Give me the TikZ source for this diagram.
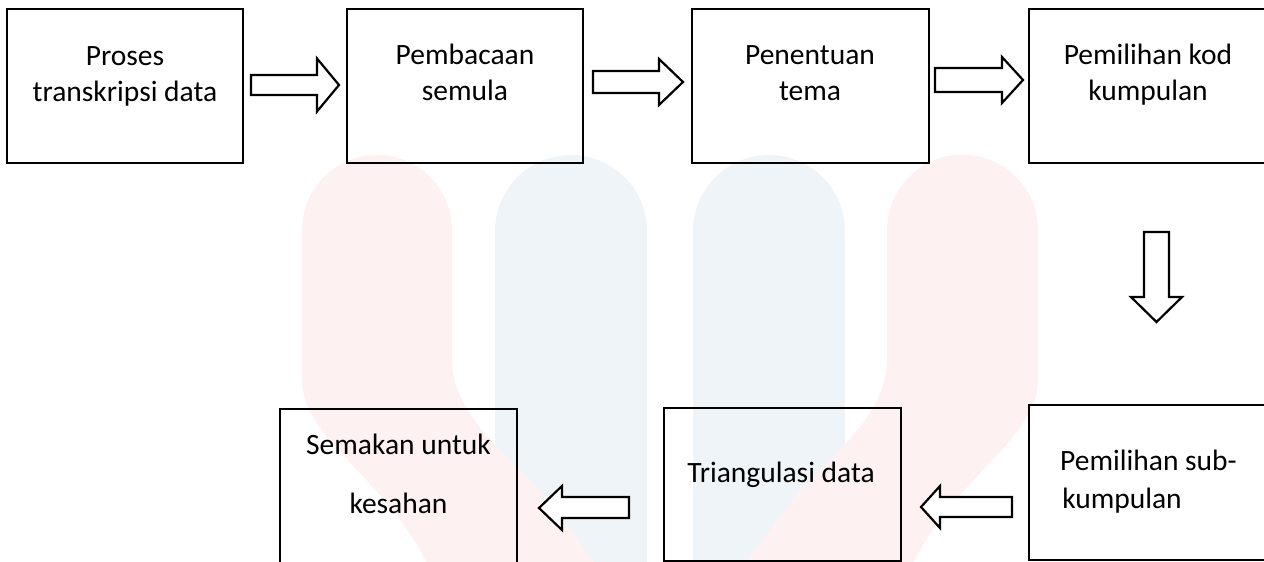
\documentclass[tikz,border=0pt]{standalone}
\usepackage{fontspec}
\setmainfont{Carlito}
\definecolor{wmred}{HTML}{FEF1F1}
\definecolor{wmblue}{HTML}{EFF4F8}
\tikzset{
  stepbox/.style={draw=black, line width=2.4bp},
  blockarrow/.style={draw=black, line width=2.2bp, fill=white, line join=miter},
  lbl/.style={anchor=base, inner sep=0pt, font=\fontsize{29.5bp}{35bp}\selectfont},
}
\begin{document}
\begin{tikzpicture}[x=1bp,y=-1bp]
\useasboundingbox (0,0) rectangle (1264,562);
% watermark
\fill[wmblue] (495,570) -- (495,231) arc[start angle=180,end angle=360,radius=76] -- (647,570) -- cycle;
\fill[wmblue] (693,570) -- (693,231) arc[start angle=180,end angle=360,radius=76] -- (845,570) -- cycle;
\fill[wmred] (302,380) -- (302,230) arc[start angle=180,end angle=360,radius=75] -- (452,360)
  .. controls (452,410) and (500,450) .. (540,490) -- (600,570) -- (430,570)
  .. controls (390,480) and (302,440) .. cycle;
\fill[wmred] (1038,380) -- (1038,230) arc[start angle=0,end angle=-180,radius=75.5] -- (887,360)
  .. controls (887,410) and (840,450) .. (800,490) -- (740,570) -- (910,570)
  .. controls (950,480) and (1038,440) .. cycle;
% boxes
\draw[stepbox] (7,9) rectangle (243,163);
\draw[stepbox] (347,9) rectangle (583,163);
\draw[stepbox] (692,9) rectangle (929,163);
\draw[stepbox] (1029,9) rectangle (1275,163);
\draw[stepbox] (280,409) rectangle (517,570);
\draw[stepbox] (664,408) rectangle (901,561);
\draw[stepbox] (1029,405) rectangle (1275,560);
% texts
\node[lbl] (t1a) at (125,66) {Proses};
\node[lbl] (t1b) at (125,102) {transkripsi data};
\node[lbl] (t2a) at (465,65) {Pembacaan};
\node[lbl] (t2b) at (465,101) {semula};
\node[lbl] (t3a) at (810,65) {Penentuan};
\node[lbl] (t3b) at (810,101) {tema};
\node[lbl] (t4a) at (1148,65) {Pemilihan kod};
\node[lbl] (t4b) at (1148,101) {kumpulan};
\node[lbl] (t5a) at (1148.5,470) {Pemilihan sub-};
\node[lbl] (t5b) at (1122,508) {kumpulan};
\node[lbl] (t6) at (781,482) {Triangulasi data};
\node[lbl] (t7a) at (398.5,454) {Semakan untuk};
\node[lbl] (t7b) at (398.5,513) {kesahan};
% block arrows
\draw[blockarrow] (251,75) -- (317,75) -- (317,58.5) -- (339,85) -- (317,111.5) -- (317,95) -- (251,95) -- cycle;
\draw[blockarrow] (593,71) -- (659,71) -- (659,59) -- (683,82) -- (659,105) -- (659,93) -- (593,93) -- cycle;
\draw[blockarrow] (935,68) -- (1002,68) -- (1002,57) -- (1023,80) -- (1002,103) -- (1002,92) -- (935,92) -- cycle;
\draw[blockarrow] (1144,232) -- (1169,232) -- (1169,297) -- (1182,297) -- (1156.5,322) -- (1131,297) -- (1144,297) -- cycle;
\draw[blockarrow] (1012,497) -- (940,497) -- (940,486) -- (921,507) -- (940,528) -- (940,517) -- (1012,517) -- cycle;
\draw[blockarrow] (629,497) -- (562,497) -- (562,486) -- (539,508) -- (562,530) -- (562,518) -- (629,518) -- cycle;
\end{tikzpicture}
\end{document}
